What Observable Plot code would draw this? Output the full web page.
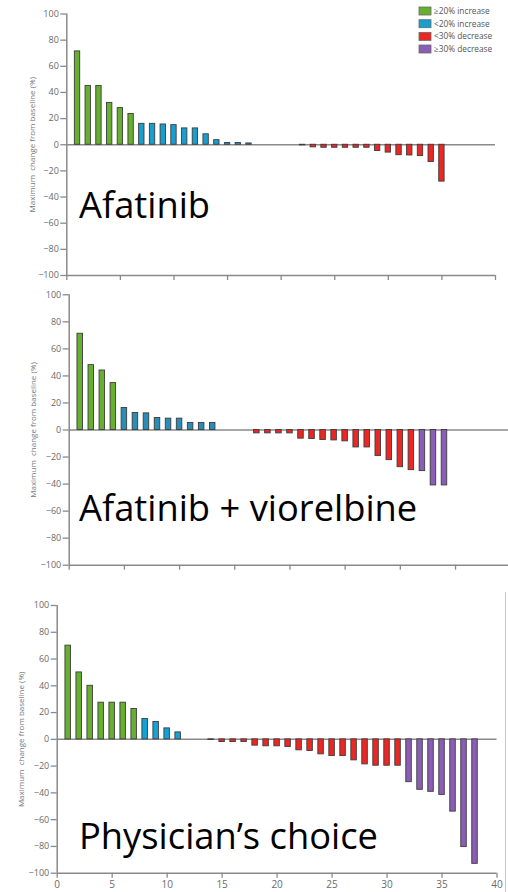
<!DOCTYPE html>
<html><head><meta charset="utf-8">
<script src="https://cdn.jsdelivr.net/npm/d3@7"></script>
<script src="https://cdn.jsdelivr.net/npm/@observablehq/plot@0.6"></script>
<style>
html,body{margin:0;padding:0;background:#fff;}
#wrap{position:relative;width:508px;height:892px;overflow:hidden;font-family:"Open Sans",sans-serif;}
.panel{position:absolute;left:0;}
#overlay{position:absolute;left:0;top:0;pointer-events:none;}
</style></head>
<body><div id="wrap"></div>
<script>
// ---------- data ----------
const categories = ["≥20% increase", "<20% increase", "<30% decrease", "≥30% decrease"];
const legendColors = ["#67b02f", "#189fcd", "#ec2623", "#8b5db5"];
const panelNames = ["Afatinib", "Afatinib + viorelbine", "Physician’s choice"];
const yLabel = "Maximum  change from baseline (%)";
const yTicks = [-100, -80, -60, -40, -20, 0, 20, 40, 60, 80, 100];
const xTicks = [0, 5, 10, 15, 20, 25, 30, 35, 40];

const afatinibPatients = [1,2,3,4,5,6,7,8,9,10,11,12,13,14,15,16,17,22,23,24,25,26,27,28,29,30,31,32,33,34,35];
const afatinibValues = [71.4,45,45,32,28,23.5,16,16,15.5,15,12.5,12.5,8,3.5,1.3,1.3,1,
  -0.5,-2,-2.3,-2.3,-2.3,-2.3,-2.3,-4.8,-6,-8,-8.2,-8.7,-13.2,-28.2];

const comboPatients = [1,2,3,4,5,6,7,8,9,10,11,12,13,17,18,19,20,21,22,23,24,25,26,27,28,29,30,31,32,33,34];
const comboValues = [71.2,48,44,34.7,16.3,12.6,12.3,8.9,8.4,8.4,5.2,5.2,5.2,
  -2.5,-2.5,-2.5,-2.5,-6.4,-6.7,-7.4,-7.7,-8.4,-12.9,-12.9,-19.3,-22.3,-27.5,-29.7,-30.4,-41,-41];

const physicianPatients = [1,2,3,4,5,6,7,8,9,10,11,14,15,16,17,18,19,20,21,22,23,24,25,26,27,28,29,30,31,32,33,34,35,36,37,38];
const physicianValues = [70,50,40,27.4,27.4,27.4,22.7,15.2,13,8.2,5.2,
  -0.5,-2,-2,-2,-4.7,-5.2,-5.2,-5.7,-8.2,-8.7,-11.2,-12.5,-12.5,-15.7,-18.7,-19.7,-19.7,-19.7,
  -32,-37.7,-39.2,-41.5,-54,-80.5,-93];

const panelBlues = ["#189fcd", "#2a8db6", "#12a2d5"];

function category(v) {
  if (v >= 20) return categories[0];
  if (v > 0) return categories[1];
  if (v > -30) return categories[2];
  return categories[3];
}

const axisColor = "#8a8a8a";

function makePanel(cfg) {
  const data = cfg.pos.map((p, i) => ({p, v: cfg.vals[i], c: category(cfg.vals[i])}));
  const colors = [legendColors[0], panelBlues[cfg.idx], legendColors[2], legendColors[3]];
  const plot = Plot.plot({
    width: 508, height: cfg.height,
    marginLeft: cfg.ml, marginRight: cfg.mr, marginTop: cfg.mt, marginBottom: cfg.mb,
    x: {domain: cfg.xdomain},
    y: {domain: [-100, 100]},
    color: {domain: categories, range: colors},
    style: {fontFamily: "'Open Sans', sans-serif", fontSize: "9px", color: "#6a6a6a", background: "transparent", overflow: "visible"},
    marks: [
      Plot.ruleY([0], {stroke: axisColor, strokeWidth: 1.5}),
      Plot.rect(data, {x1: d => d.p - 0.25, x2: d => d.p + 0.25, y1: 0, y2: "v", fill: "c", stroke: "#3c3c3c", strokeWidth: 0.9}),
      Plot.ruleX([cfg.xdomain[0]], {y1: -100, y2: 100, stroke: axisColor, strokeWidth: 1.5}),
      Plot.ruleY([-100], {stroke: axisColor, strokeWidth: 1.5}),
      Plot.axisY({ticks: yTicks, tickSize: 6, tickPadding: 2, fontSize: 9, label: null, stroke: axisColor, strokeWidth: 1.3}),
      Plot.axisX({ticks: xTicks.filter(t => t <= cfg.xdomain[1]), tickSize: 5, tickPadding: 3, fontSize: 10,
        tickFormat: cfg.xLabels ? (d => String(d)) : (() => ""), label: null, stroke: axisColor, strokeWidth: 1.3}),
      Plot.text([yLabel], {frameAnchor: "left", rotate: -90, dx: cfg.labelDx, fontSize: 8, fill: "#777", textAnchor: "middle", lineAnchor: "middle"})
    ]
  });
  plot.classList.add("panel");
  plot.style.top = cfg.top + "px";
  return plot;
}

const wrap = document.getElementById("wrap");
wrap.appendChild(makePanel({idx: 0, pos: afatinibPatients, vals: afatinibValues, top: 0, height: 285,
  ml: 66.3, mr: 13, mt: 13.5, mb: 10, xdomain: [0, 40], xLabels: false, labelDx: -34}));
wrap.appendChild(makePanel({idx: 1, pos: comboPatients, vals: comboValues, top: 285, height: 290,
  ml: 68.7, mr: 0, mt: 9.3, mb: 10.3, xdomain: [0, 39.8], xLabels: false, labelDx: -36}));
wrap.appendChild(makePanel({idx: 2, pos: physicianPatients, vals: physicianValues, top: 590, height: 302,
  ml: 56.7, mr: 11.5, mt: 15, mb: 19.3, xdomain: [0, 40], xLabels: true, labelDx: -36}));

// ---------- overlay: panel names, legend ----------
const svg = d3.select(wrap).append("svg").attr("id", "overlay").attr("width", 508).attr("height", 892);
const nameBaselines = [218, 520.5, 849];
svg.selectAll("text.name").data(panelNames).join("text")
  .attr("class", "name")
  .attr("x", 79).attr("y", (d, i) => nameBaselines[i])
  .attr("font-family", "'Open Sans', sans-serif").attr("font-size", 36.3)
  .attr("fill", "#000").text(d => d);

const legendRows = [11, 23.7, 36.4, 49];
const lg = svg.append("g");
lg.selectAll("rect").data(categories).join("rect")
  .attr("x", 419).attr("y", (d, i) => legendRows[i] - 4).attr("width", 12).attr("height", 8)
  .attr("fill", (d, i) => legendColors[i]).attr("stroke", "#6a6a6a").attr("stroke-width", 0.8);
lg.selectAll("text").data(categories).join("text")
  .attr("x", 434).attr("y", (d, i) => legendRows[i] + 3)
  .attr("font-family", "'Open Sans', sans-serif").attr("font-size", 8.3).attr("fill", "#555")
  .text(d => d);

svg.append("line").attr("x1", 505.5).attr("x2", 505.5).attr("y1", 592).attr("y2", 892)
  .attr("stroke", "#e8b6c9").attr("stroke-width", 1);
</script>
</body></html>
